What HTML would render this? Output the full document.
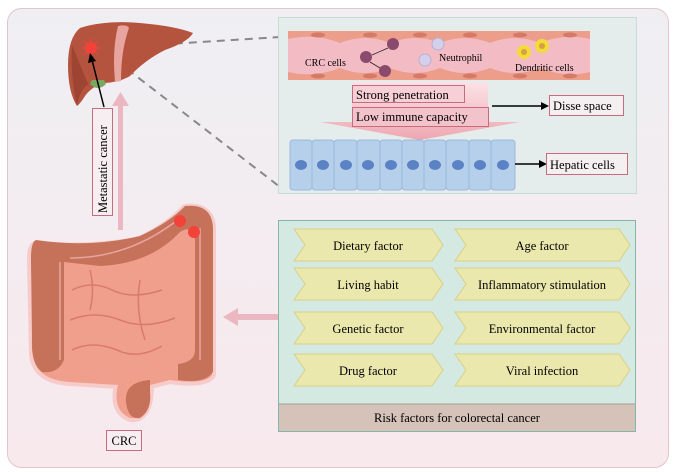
<!DOCTYPE html>
<html><head><meta charset="utf-8"><style>
html,body{margin:0;padding:0;background:#fff;}
svg{display:block;font-family:"Liberation Serif",serif;}
</style></head><body>
<svg width="677" height="472" viewBox="0 0 677 472" xmlns="http://www.w3.org/2000/svg">
<defs>
<linearGradient id="bg" x1="0" y1="0" x2="0" y2="1"><stop offset="0" stop-color="#efeff3"/><stop offset="1" stop-color="#f8e9ed"/></linearGradient>
<linearGradient id="fun" x1="0" y1="0" x2="0" y2="1"><stop offset="0" stop-color="#fbe3e6"/><stop offset="1" stop-color="#eea7b1"/></linearGradient>
</defs>
<rect x="7.5" y="8.5" width="661" height="459" rx="14" fill="url(#bg)" stroke="#e7c4cc" stroke-width="1"/>

<!-- dashed lines -->
<line x1="105" y1="48" x2="280" y2="37" stroke="#888" stroke-width="2" stroke-dasharray="8,6"/>
<line x1="105" y1="52" x2="280" y2="187" stroke="#888" stroke-width="2" stroke-dasharray="8,6"/>

<!-- top panel -->
<rect x="278.5" y="17.5" width="358" height="176" fill="#e5ecec" stroke="#c8dcd6"/>
<rect x="288" y="31" width="302" height="49" fill="#f3bcc5"/>
<path d="M288 31 h302 v8 q-25 -6 -50 4 q-25 -10 -50 0 q-25 -10 -50 0 q-25 -10 -50 0 q-25 -10 -50 0 q-25 -10 -52 -4z" fill="#ec9e8a"/>
<path d="M288 80 h302 v-8 q-25 6 -50 -4 q-25 10 -50 0 q-25 10 -50 0 q-25 10 -50 0 q-25 10 -50 0 q-25 10 -52 4z" fill="#ec9e8a"/>
<g fill="#d57a66">
<ellipse cx="318" cy="35" rx="7" ry="2.5"/><ellipse cx="370" cy="35" rx="7" ry="2.5"/><ellipse cx="420" cy="35" rx="7" ry="2.5"/><ellipse cx="470" cy="35" rx="7" ry="2.5"/><ellipse cx="520" cy="35" rx="7" ry="2.5"/><ellipse cx="570" cy="35" rx="7" ry="2.5"/>
<ellipse cx="318" cy="76" rx="7" ry="2.5"/><ellipse cx="370" cy="76" rx="7" ry="2.5"/><ellipse cx="420" cy="76" rx="7" ry="2.5"/><ellipse cx="470" cy="76" rx="7" ry="2.5"/><ellipse cx="520" cy="76" rx="7" ry="2.5"/><ellipse cx="570" cy="76" rx="7" ry="2.5"/>
</g>
<g fill="#8a4a6e"><circle cx="393" cy="44" r="6"/><circle cx="366" cy="57" r="6"/><circle cx="385" cy="71" r="6"/></g>
<g fill="#d5d0ea" stroke="#b8aed8"><circle cx="438" cy="44" r="6"/><circle cx="425" cy="60" r="6"/></g>
<g fill="#f2dc3a"><circle cx="524" cy="52" r="7"/><circle cx="542" cy="46" r="7"/></g>
<g fill="#d8a040"><circle cx="524" cy="52" r="3"/><circle cx="542" cy="46" r="3"/></g>
<line x1="388" y1="48" x2="372" y2="55" stroke="#222" stroke-width="0.8"/>
<line x1="370" y1="62" x2="380" y2="68" stroke="#222" stroke-width="0.8"/>
<text x="305" y="66" font-size="10">CRC cells</text>
<text x="439" y="61" font-size="10">Neutrophil</text>
<text x="515" y="71" font-size="10">Dendritic cells</text>

<polygon points="352,82 488,82 488,122 520,122 420,140 320,122 352,122" fill="url(#fun)"/>
<rect x="352.5" y="85.5" width="112" height="17" fill="#f7cfd6" stroke="#c96b7c"/>
<text x="356" y="99" font-size="12.5">Strong penetration</text>
<rect x="352.5" y="107.5" width="136" height="19" fill="#f3c3cb" stroke="#c96b7c"/>
<text x="356" y="121" font-size="12.5">Low immune capacity</text>
<line x1="492" y1="106" x2="543" y2="106" stroke="#000" stroke-width="1.5"/>
<polygon points="549,106 541,102 541,110" fill="#000"/>
<rect x="549.5" y="95.5" width="74" height="20" fill="#f4f0f1" stroke="#c96b7c"/>
<text x="553" y="110" font-size="12.5">Disse space</text>

<g fill="#b6d0ec" stroke="#9ab8da">
<rect x="290" y="140" width="22" height="50" rx="3"/><rect x="312" y="140" width="22" height="50" rx="3"/><rect x="334" y="140" width="23" height="50" rx="3"/><rect x="357" y="140" width="23" height="50" rx="3"/><rect x="380" y="140" width="22" height="50" rx="3"/><rect x="402" y="140" width="22" height="50" rx="3"/><rect x="424" y="140" width="22" height="50" rx="3"/><rect x="446" y="140" width="23" height="50" rx="3"/><rect x="469" y="140" width="22" height="50" rx="3"/><rect x="491" y="140" width="24" height="50" rx="3"/>
</g>
<g fill="#5a82c4">
<ellipse cx="301" cy="165" rx="6" ry="5"/><ellipse cx="323" cy="165" rx="6" ry="5"/><ellipse cx="346" cy="165" rx="6" ry="5"/><ellipse cx="368" cy="165" rx="6" ry="5"/><ellipse cx="391" cy="165" rx="6" ry="5"/><ellipse cx="413" cy="165" rx="6" ry="5"/><ellipse cx="435" cy="165" rx="6" ry="5"/><ellipse cx="458" cy="165" rx="6" ry="5"/><ellipse cx="480" cy="165" rx="6" ry="5"/><ellipse cx="503" cy="165" rx="6" ry="5"/>
</g>
<line x1="515" y1="164" x2="541" y2="164" stroke="#000" stroke-width="1.5"/>
<polygon points="547,164 539,160 539,168" fill="#000"/>
<rect x="546.5" y="153.5" width="81" height="21" fill="#f4f0f1" stroke="#c96b7c"/>
<text x="550" y="169" font-size="12.5">Hepatic cells</text>

<!-- bottom panel -->
<rect x="278.5" y="220.5" width="357" height="211" fill="#d4e9e1" stroke="#86b5aa"/>
<rect x="279" y="404" width="356" height="27" fill="#d5c2b8"/>
<line x1="279" y1="404" x2="635" y2="404" stroke="#a89a90"/>
<text x="457" y="422" font-size="12.5" text-anchor="middle">Risk factors for colorectal cancer</text>
<g fill="#ebe8ad" stroke="#d9cf86" stroke-width="1">
<polygon points="294,229 432,229 443,245 432,261 294,261 305,245"/>
<polygon points="455,229 619,229 630,245 619,261 455,261 466,245"/>
<polygon points="294,268 432,268 443,284 432,300 294,300 305,284"/>
<polygon points="455,268 619,268 630,284 619,300 455,300 466,284"/>
<polygon points="294,312 432,312 443,328 432,344 294,344 305,328"/>
<polygon points="455,312 619,312 630,328 619,344 455,344 466,328"/>
<polygon points="294,354 432,354 443,370 432,386 294,386 305,370"/>
<polygon points="455,354 619,354 630,370 619,386 455,386 466,370"/>
</g>
<g font-size="12.5" text-anchor="middle">
<text x="368" y="250">Dietary factor</text><text x="542" y="250">Age factor</text>
<text x="368" y="289">Living habit</text><text x="542" y="289">Inflammatory stimulation</text>
<text x="368" y="333">Genetic factor</text><text x="542" y="333">Environmental factor</text>
<text x="368" y="375">Drug factor</text><text x="542" y="375">Viral infection</text>
</g>

<!-- pink arrows -->
<rect x="236" y="314" width="42" height="6" fill="#ebb7c0"/>
<polygon points="223,317 238,308 238,326" fill="#ebb7c0"/>
<rect x="118" y="104" width="5" height="126" fill="#ebb7c0"/>
<polygon points="120.5,92 112,106 129,106" fill="#ebb7c0"/>

<!-- liver -->
<path d="M80 28 Q105 20 140 23 Q175 26 193 33 Q188 42 165 50 Q145 60 130 76 Q120 82 105 83 Q92 86 85 96 Q80 104 77 106 Q68 92 68 65 Q68 38 80 28Z" fill="#b4543e"/>
<path d="M72 45 Q70 75 77 106 Q80 90 88 84 Z" fill="#8f3a2c" opacity="0.6"/>
<path d="M118 26 Q127 24 129 28 Q121 50 121 81 L115 82 Q112 50 118 26Z" fill="#e8a5a0"/>
<path d="M90 84 Q98 92 106 84 L104 80 L92 80Z" fill="#7aa860"/>
<circle cx="91" cy="48" r="6" fill="#f2423a"/>
<g stroke="#f2423a" stroke-width="1"><line x1="91" y1="38" x2="91" y2="58"/><line x1="81" y1="48" x2="101" y2="48"/><line x1="84" y1="41" x2="98" y2="55"/><line x1="98" y1="41" x2="84" y2="55"/></g>
<line x1="104" y1="107" x2="92" y2="60" stroke="#000" stroke-width="1.5"/>
<polygon points="90,53 88,63 96,61" fill="#000"/>
<rect x="92.5" y="108.5" width="20" height="107" fill="#f6eef0" stroke="#c96b7c"/>
<text x="107" y="213" font-size="12.5" transform="rotate(-90 107 213)">Metastatic cancer</text>

<!-- colon -->
<g stroke="#f6c3c0" stroke-width="8" stroke-linejoin="round" fill="none" opacity="0.8">
<path d="M36 245 Q90 250 140 240 Q170 225 185 208 Q212 205 212 230 L212 375 Q205 385 170 380 L150 385 Q150 420 130 418 Q112 410 118 385 L70 382 Q36 380 33 355 L31 260 Q31 245 36 245Z"/>
</g>
<path d="M36 245 Q90 250 140 240 Q170 225 185 208 Q212 205 212 230 L212 375 Q205 385 170 380 L150 385 Q150 420 130 418 Q112 410 118 385 L70 382 Q36 380 33 355 L31 260 Q31 245 36 245Z" fill="#ef9f8c"/>
<path d="M36 240 Q90 248 140 236 Q170 222 185 206 Q214 203 213 232 L213 372 Q205 384 178 380 L178 364 Q195 362 195 350 L195 240 Q192 224 180 232 Q150 264 100 266 L64 262 L64 360 Q58 374 42 372 Q31 364 32 340 L31 258 Q31 242 36 240Z" fill="#c6725a"/>
<path d="M150 380 Q124 382 126 402 Q128 420 140 418 Q152 410 150 392 Z" fill="#c6725a"/>
<g stroke="#d97a6c" stroke-width="1.5" fill="none"><path d="M72 290 q20 -10 40 0 q20 10 50 0"/><path d="M70 320 q25 -10 50 0 q25 10 55 -2"/><path d="M72 350 q20 -10 45 0 q20 10 45 -4"/><path d="M90 270 q5 20 0 40"/><path d="M140 280 q-5 30 5 60"/></g>
<path d="M200 228 L200 360 M60 262 L60 360 M70 258 Q130 258 180 218" stroke="#e8a5a0" stroke-width="1.5" fill="none"/>
<circle cx="180" cy="221" r="6" fill="#f2423a"/><circle cx="194" cy="232" r="6" fill="#f2423a"/>
<rect x="106.5" y="430.5" width="35" height="20" fill="#f6eef0" stroke="#c96b7c"/>
<text x="124" y="445" font-size="12.5" text-anchor="middle">CRC</text>
</svg>
</body></html>
